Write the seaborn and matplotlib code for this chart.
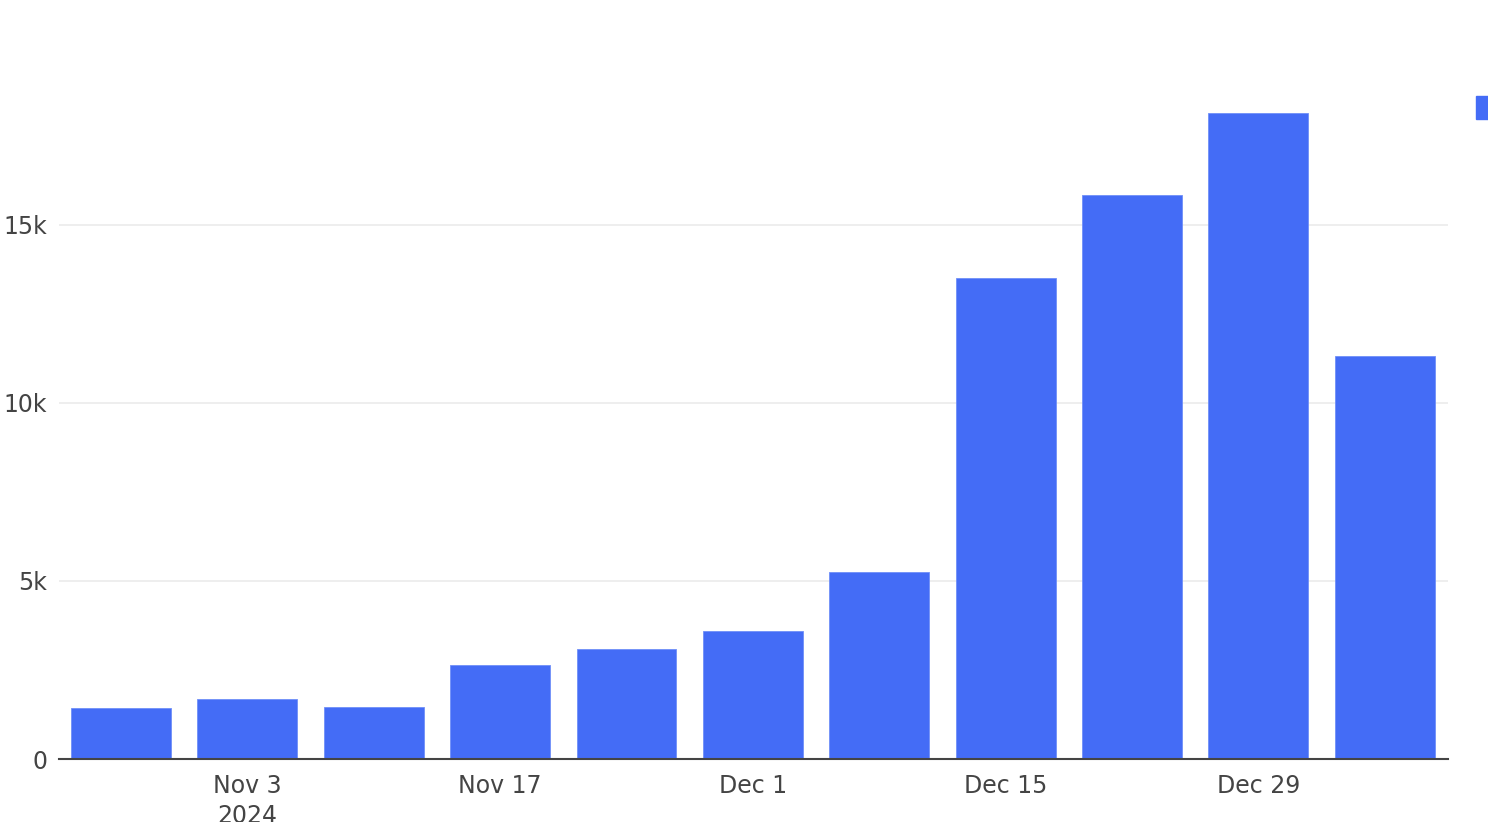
import numpy as np
import pandas as pd
import matplotlib
matplotlib.use("Agg")
import matplotlib.pyplot as plt
import seaborn as sns
from matplotlib.patches import Rectangle

# weekly totals
weeks = ["2024-10-27", "2024-11-03", "2024-11-10", "2024-11-17", "2024-11-24",
         "2024-12-01", "2024-12-08", "2024-12-15", "2024-12-22", "2024-12-29",
         "2025-01-05"]
values = [1430, 1690, 1460, 2640, 3090, 3600, 5250, 13510, 15830, 18140, 11310]
tick_weeks = ["2024-11-03", "2024-11-17", "2024-12-01", "2024-12-15", "2024-12-29"]
tick_labels = ["Nov 3\n2024", "Nov 17", "Dec 1", "Dec 15", "Dec 29"]
y_ticks = [0, 5000, 10000, 15000]
y_labels = ["0", "5k", "10k", "15k"]

bar_color = "#446CF6"
text_color = "#444444"

df = pd.DataFrame({"week": weeks, "value": values})

sns.set_theme(style="white")
plt.rcParams["font.family"] = ["DejaVu Sans"]

fig = plt.figure(figsize=(14.88, 8.22), dpi=100)
ax = fig.add_axes([59/1488, 1 - 759/822, (1448-59)/1488, (759-79)/822])

sns.barplot(data=df, x="week", y="value", color=bar_color, width=0.79,
            saturation=1, ax=ax, edgecolor="#6f8ff8", linewidth=0.6, zorder=3)

ax.set_xlim(-0.49, 10.5)
ax.set_ylim(0, 19100)

ax.set_yticks(y_ticks)
ax.set_yticklabels(y_labels)
ax.yaxis.grid(True, color="#EBEBEB", linewidth=1.2, zorder=0)
ax.set_axisbelow(True)

pos = [weeks.index(w) for w in tick_weeks]
ax.set_xticks(pos)
ax.set_xticklabels(tick_labels, linespacing=1.3)

ax.tick_params(axis="both", length=0, labelsize=17, colors=text_color)
ax.tick_params(axis="x", pad=11)
ax.tick_params(axis="y", pad=8.5)
ax.set_xlabel("")
ax.set_ylabel("")

for s in ["top", "right", "left"]:
    ax.spines[s].set_visible(False)
ax.spines["bottom"].set_color(text_color)
ax.spines["bottom"].set_linewidth(1.5)
ax.spines["bottom"].set_zorder(4)

# legend swatch, cut off at the right edge like the reference
fig.patches.append(Rectangle((1476/1488, 1 - 119/822), 14/1488, 23/822,
                             transform=fig.transFigure, color=bar_color))

fig.savefig("out.png", dpi=100, facecolor="white")
